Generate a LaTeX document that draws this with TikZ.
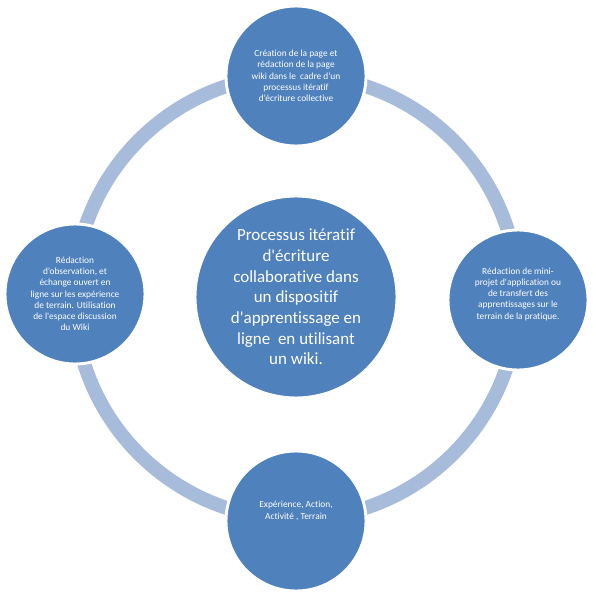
\documentclass[tikz,border=0pt]{standalone}
\usepackage{fontspec}
\setmainfont{Carlito}[Ligatures={TeX,CommonOff}]
\usepackage{xcolor}
\usepackage{tikz}
\usetikzlibrary{positioning, calc}

\definecolor{stepblue}{RGB}{79,129,189}
\definecolor{ringblue}{RGB}{167,187,219}

\begin{document}
\begin{tikzpicture}[
    x=0.03cm, y=-0.03cm,
    stage/.style={circle, fill=stepblue, draw=white, line width=2.5pt, minimum size=4.2cm, inner sep=0pt, align=center, text=white, font=\fontsize{8}{9.6}\selectfont},
    core/.style={circle, fill=stepblue, draw=white, line width=2.5pt, minimum size=6.06cm, inner sep=0pt, align=center, text=white, font=\fontsize{14.5}{17.6}\selectfont},
    ring/.style={draw=ringblue, line width=0.42cm}
]
    \useasboundingbox (0,0) rectangle (592,600);

    % Layout
    \node[core] (Core) at (296,297) {Processus itératif\\d\textquotesingle écriture\\collaborative dans\\un dispositif\\d\textquotesingle apprentissage en\\ligne ~en utilisant\\un wiki.};

    % Ring
    \draw[ring] (Core.center) circle (222);

    \node[stage] (Wiki) at (296,76) {Création de la page et\\rédaction de la page\\wiki dans le ~cadre d'un\\processus itératif\\d'écriture collective};
    \node[stage, text depth=0.4cm] (Projet) at (518,300) {Rédaction de mini-\\projet d\textquotesingle application ou\\de transfert des\\apprentissages sur le\\terrain de la pratique.};
    \node[stage, text depth=0.65cm] (Terrain) at (296,521) {Expérience, Action,\\Activité , Terrain};
    \node[stage] (Echange) at (75,294) {Rédaction\\d'observation, et\\échange ouvert en\\ligne sur les expérience\\de terrain. Utilisation\\de l\textquotesingle espace discussion\\du Wiki};
\end{tikzpicture}
\end{document}
